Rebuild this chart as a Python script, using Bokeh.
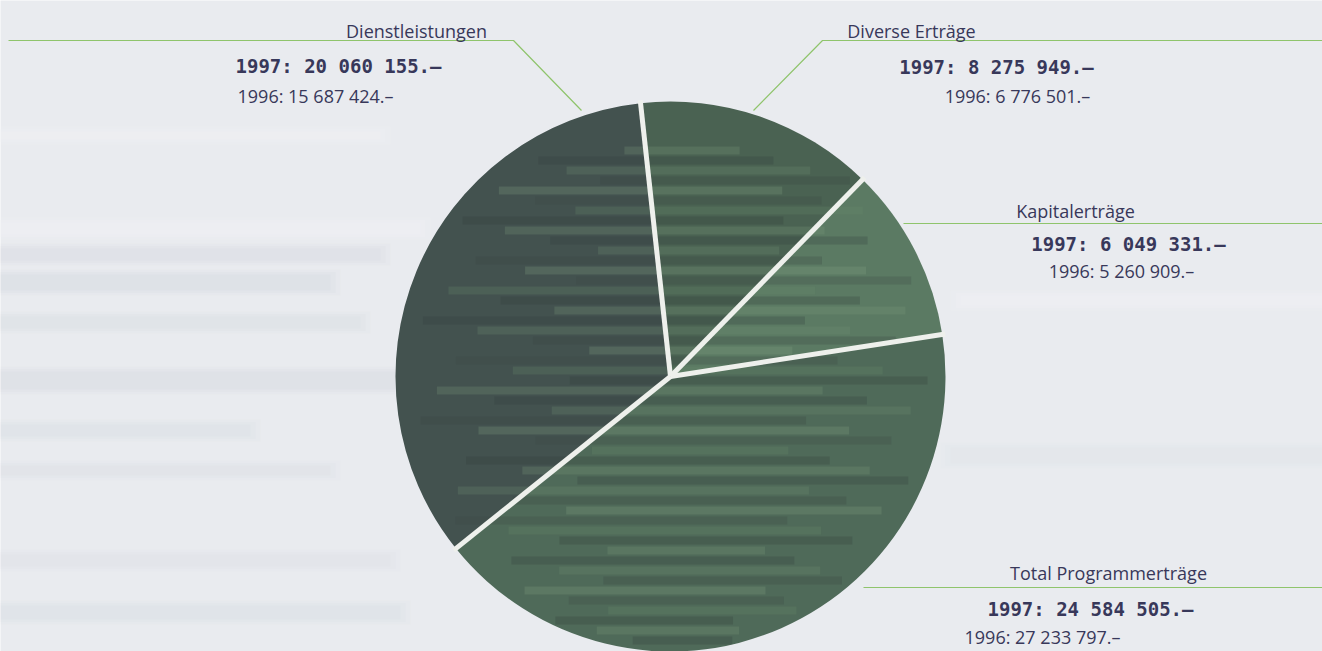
import math
from bokeh.plotting import figure
from bokeh.models import Range1d, ColumnDataSource
from bokeh.core.properties import value
from bokeh.embed import file_html
from bokeh.resources import INLINE

# ---- data (1997 values drive the pie) ----
categories = ["Kapitalerträge", "Diverse Erträge", "Dienstleistungen", "Total Programmerträge"]
values_1997 = [6049331, 8275949, 20060155, 24584505]
values_1996 = [5260909, 6776501, 15687424, 27233797]

def fmt(v):
    return f"{v:,}".replace(",", " ") + ".–"

W, H = 1322, 651
p = figure(width=W, height=H, output_backend="svg", toolbar_location=None,
           x_range=Range1d(0, W), y_range=Range1d(0, H), min_border=0)
p.axis.visible = False
p.grid.visible = False
p.outline_line_color = None
p.background_fill_color = "#e9ebef"
p.border_fill_color = "#e9ebef"

def Y(yi):
    return H - yi

# soft background streaks (decoration): stacked translucent bands for blurred edges
streaks = [(0, 228, 420, 12, "#f6f7f9"), (0, 254, 380, 12, "#d5d8df"),
           (0, 282, 330, 16, "#d3d6dd"), (0, 322, 360, 12, "#d7dae0"),
           (0, 380, 400, 18, "#d4d7de"), (0, 430, 250, 12, "#d8dbe1"),
           (0, 470, 330, 10, "#dadde3"), (960, 300, 362, 10, "#f5f6f8"),
           (950, 455, 372, 16, "#e0e3e8"), (0, 560, 390, 12, "#dde0e5"),
           (0, 612, 400, 14, "#d9dce2"), (0, 135, 380, 8, "#f4f5f7")]
for x0, yi, w, h, c in streaks:
    for grow, a in [(10, 0.12), (5, 0.15), (0, 0.2)]:
        p.rect(x=x0 + w / 2, y=Y(yi), width=w + 2 * grow, height=h + grow,
               fill_color=c, fill_alpha=a, line_color=None)

# ---- pie ----
cx, cy, r = 670, Y(376), 275
start_deg = 8.8
total = sum(values_1997)
acc = math.radians(start_deg)
starts, ends = [], []
for v in values_1997:
    a = v / total * 2 * math.pi
    starts.append(acc)
    ends.append(acc + a)
    acc += a
colors = ["#5b7a63", "#4a6252", "#43524f", "#4f6a59"]
src = ColumnDataSource(dict(start=starts, end=ends, color=colors, cat=categories))
p.wedge(x=cx, y=cy, radius=r, start_angle="start", end_angle="end",
        fill_color="color", line_color=None, source=src)

# horizontal band texture inside the disc (decoration)
shades = ["#7a9a7c", "#303c3b", "#6e8f72", "#36453f", "#83a283", "#3a4844", "#688a6c", "#2f3a39"]
k = 0
for yi in range(150, 651, 10):
    dy = Y(yi) - cy
    if abs(dy) >= r - 6:
        k += 1
        continue
    half = math.sqrt(r * r - dy * dy) - 3
    lft = cx - half * (0.3 + 0.7 * ((k * 37) % 10) / 10)
    rgt = cx + half * (0.45 + 0.55 * ((k * 53) % 10) / 10)
    p.segment(x0=max(lft, cx - half), y0=Y(yi), x1=min(rgt, cx + half), y1=Y(yi),
              line_color=shades[k % len(shades)], line_width=8, line_alpha=0.25)
    k += 1

# separators between slices
sep_x1 = [cx + (r + 3) * math.cos(a) for a in starts]
sep_y1 = [cy + (r + 3) * math.sin(a) for a in starts]
p.segment(x0=[cx] * 4, y0=[cy] * 4, x1=sep_x1, y1=sep_y1, line_color="#eef0ec", line_width=5)

# ---- leader lines ----
green = "#8fc46c"
p.line(x=[8, 513, 581], y=[Y(40), Y(40), Y(110)], line_color=green, line_width=1.2)
p.line(x=[753, 822, 1322], y=[Y(110), Y(40), Y(40)], line_color=green, line_width=1.2)
p.line(x=[903, 1322], y=[Y(223), Y(223)], line_color=green, line_width=1.2)
p.line(x=[863, 1322], y=[Y(587), Y(587)], line_color=green, line_width=1.2)

# ---- labels ----
txt = "#38385a"
label_font = value("Open Sans")
bold_font = value("DejaVu Sans Mono")
name_pos = {"Dienstleistungen": (416, 30), "Diverse Erträge": (911, 30),
            "Kapitalerträge": (1075, 210), "Total Programmerträge": (1108, 572)}
v97_pos = {"Dienstleistungen": (338, 65), "Diverse Erträge": (996, 66),
           "Kapitalerträge": (1128, 243), "Total Programmerträge": (1090, 608)}
v96_pos = {"Dienstleistungen": (315, 95), "Diverse Erträge": (1017, 95),
           "Kapitalerträge": (1121, 270), "Total Programmerträge": (1042, 636)}
for cat, v97, v96 in zip(categories, values_1997, values_1996):
    x, yi = name_pos[cat]
    p.text(x=[x], y=[Y(yi)], text=[cat], text_font=label_font, text_font_size="18px",
           text_color=txt, text_align="center", text_baseline="alphabetic")
    x, yi = v97_pos[cat]
    p.text(x=[x], y=[Y(yi)], text=["1997: " + fmt(v97)], text_font=bold_font,
           text_font_size="19px", text_font_style="bold", text_color=txt,
           text_align="center", text_baseline="alphabetic")
    x, yi = v96_pos[cat]
    p.text(x=[x], y=[Y(yi)], text=["1996: " + fmt(v96)], text_font=label_font,
           text_font_size="18px", text_color=txt, text_align="center", text_baseline="alphabetic")

open("out.html", "w").write(file_html(p, INLINE))
